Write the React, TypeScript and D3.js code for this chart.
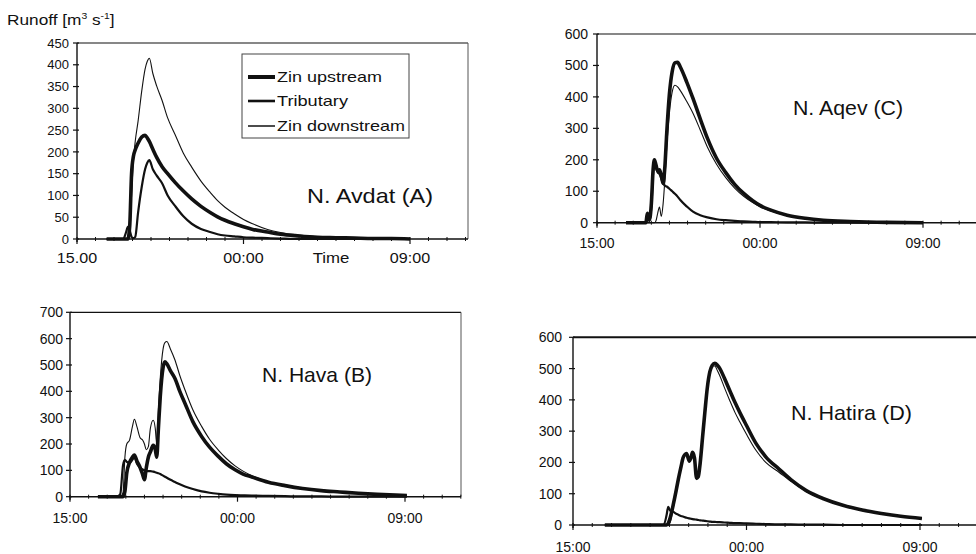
import React from 'react';
import * as d3 from 'd3';

// ---------- DATA (hours after 15:00) ----------
const hoursA = [1.6, 2.5, 2.65, 2.75, 2.85, 2.95, 3.05, 3.15, 3.3, 3.5, 3.68, 3.8, 3.91, 4.1, 4.3, 4.6, 4.9, 5.3, 5.75, 6.2, 6.7, 7.2, 7.6, 8.0, 8.5, 9.0, 9.5, 10.3, 11, 12, 13, 14, 15, 16, 17, 18];
const upstreamA = [0, 0, 0, 0, 30, 150, 190, 205, 220, 234, 238, 232, 224, 206, 188, 166, 150, 130, 110, 92, 75, 61, 51, 43, 35, 28, 22, 16, 11, 7, 4, 3, 2, 1, 1, 0];
const tributaryA = [0, 0, 15, 28, 20, 5, 2, 5, 60, 120, 160, 175, 181, 160, 146, 128, 100, 76, 52, 35, 23, 16, 11, 8, 6, 4, 3, 2, 1, 0, 0, 0, 0, 0, 0, 0];
const downstreamA = [0, 0, 0, 0, 10, 100, 180, 225, 270, 340, 390, 408, 415, 380, 352, 318, 278, 240, 197, 165, 133, 107, 88, 73, 58, 45, 35, 22, 15, 9, 5, 3, 2, 1, 1, 0];

const hoursB = [1.5, 2.5, 2.7, 2.85, 2.95, 3.05, 3.2, 3.35, 3.46, 3.6, 3.76, 3.9, 4.0, 4.1, 4.21, 4.32, 4.47, 4.58, 4.66, 4.75, 4.85, 5.0, 5.1, 5.2, 5.4, 5.64, 5.9, 6.18, 6.6, 7.08, 7.5, 7.97, 8.4, 8.87, 9.3, 9.77, 10.66, 11.56, 12.5, 13.5, 14.5, 15.5, 16.5, 17.5, 18.1];
const upstreamB = [0, 0, 0, 0, 20, 90, 130, 150, 158, 135, 112, 85, 65, 110, 150, 170, 195, 180, 150, 260, 380, 490, 512, 505, 478, 449, 400, 354, 285, 228, 188, 153, 125, 102, 86, 75, 55, 42, 31, 23, 18, 13, 9, 6, 4];
const tributaryB = [0, 0, 10, 120, 140, 132, 128, 140, 150, 125, 110, 103, 100, 98, 97, 97, 95, 93, 91, 89, 86, 80, 76, 72, 64, 56, 47, 39, 29, 20, 15, 11, 8, 6, 5, 4, 3, 2, 1, 1, 0, 0, 0, 0, 0];
const downstreamB = [0, 0, 0, 15, 150, 200, 215, 265, 294, 265, 225, 215, 200, 178, 190, 260, 290, 260, 200, 330, 450, 560, 585, 589, 560, 519, 460, 405, 330, 266, 218, 177, 145, 117, 97, 80, 57, 44, 33, 25, 19, 14, 10, 7, 5];

const hoursC = [1.6, 2.6, 2.7, 2.78, 2.9, 3.0, 3.1, 3.17, 3.25, 3.35, 3.45, 3.55, 3.65, 3.75, 3.85, 4.0, 4.15, 4.3, 4.45, 4.6, 4.95, 5.3, 5.7, 6.1, 6.6, 7.1, 7.6, 8.1, 8.6, 9.0, 9.6, 10.5, 11.5, 12.5, 14, 16, 18];
const upstreamC = [0, 0, 0, 30, 10, 60, 170, 200, 185, 165, 168, 150, 125, 180, 284, 410, 480, 508, 510, 495, 448, 395, 330, 268, 205, 160, 122, 93, 70, 55, 40, 24, 14, 8, 4, 1, 0];
const tributaryC = [0, 0, 0, 10, 5, 50, 160, 190, 175, 160, 155, 140, 125, 118, 115, 108, 100, 92, 83, 72, 52, 35, 24, 17, 11, 8, 6, 4, 3, 2, 2, 1, 1, 0, 0, 0, 0];
const downstreamC = [0, 0, 0, 0, 0, 0, 0, 0, 5, 30, 50, 20, 60, 140, 240, 350, 415, 437, 432, 420, 386, 348, 295, 240, 186, 144, 110, 84, 64, 51, 37, 22, 13, 8, 4, 1, 0];

const hoursD = [1.65, 4.7, 4.85, 4.94, 5.05, 5.2, 5.35, 5.46, 5.6, 5.71, 5.8, 5.89, 6.03, 6.12, 6.2, 6.3, 6.41, 6.5, 6.6, 6.72, 6.84, 6.97, 7.1, 7.22, 7.36, 7.5, 7.62, 7.85, 8.13, 8.4, 8.65, 9.0, 9.5, 10.0, 10.7, 11.3, 12.1, 13, 14, 15, 16, 17, 18.1];
const upstreamD = [0, 0, 0, 5, 25, 65, 110, 145, 185, 215, 225, 228, 205, 215, 232, 215, 150, 155, 200, 280, 360, 440, 490, 510, 517, 510, 500, 470, 430, 392, 360, 318, 260, 218, 178, 145, 110, 84, 63, 48, 37, 28, 21];
const tributaryD = [0, 0, 30, 58, 45, 42, 36, 33, 29, 27, 25, 23, 21, 20, 19, 18, 17, 16, 15, 14, 13, 12, 11, 10, 10, 9, 9, 8, 7, 6, 6, 5, 4, 3, 2, 2, 1, 1, 0, 0, 0, 0, 0];
const downstreamD = [0, 0, 0, 0, 10, 55, 105, 140, 180, 210, 222, 225, 200, 210, 228, 205, 145, 160, 210, 290, 370, 450, 495, 510, 508, 492, 476, 440, 398, 360, 330, 290, 238, 200, 168, 140, 107, 82, 62, 47, 37, 28, 21];

const yTicksA = [0, 50, 100, 150, 200, 250, 300, 350, 400, 450];
const yTicksB = [0, 100, 200, 300, 400, 500, 600, 700];
const yTicksC = [0, 100, 200, 300, 400, 500, 600];
const yTicksD = [0, 100, 200, 300, 400, 500, 600];
const xTickHours = [0, 9, 18];
const xTickLabelsA = ['15.00', '00:00', '09:00'];
const xTickLabels = ['15:00', '00:00', '09:00'];
const seriesNames = ['Zin upstream', 'Tributary', 'Zin downstream'];

const FONT = '"Liberation Sans", Arial, Helvetica, sans-serif';
const INK = '#111';
const widths = [3.6, 2.2, 1.1];

function Panel(p: any) {
  const x = d3.scaleLinear().domain([0, 18]).range([p.x0, p.x18]);
  const y = d3.scaleLinear().domain([0, p.yMax]).range([p.yBottom, p.yTop]);
  const series = [p.up, p.trib, p.down];
  const lineFor = (vals: number[]) =>
    d3
      .line<number>()
      .x((_, i) => x(p.hours[i]))
      .y((d) => y(d))
      .curve(d3.curveMonotoneX)(vals) as string;
  const maxHour = Math.floor(x.invert(Math.min(p.xRight, 975)));
  const minor = d3.range(1, maxHour + 1).filter((h) => h !== 9 && h !== 18);
  return (
    <g>
      <line x1={p.x0} x2={p.xRight} y1={p.yTop} y2={p.yTop} stroke={INK} strokeWidth={p.topW || 1.2} />
      {p.xRight < 976 && (
        <line x1={p.xRight} x2={p.xRight} y1={p.yTop} y2={p.yBottom} stroke="#555" strokeWidth={1} />
      )}
      <line x1={p.x0} x2={p.x0} y1={p.yTop} y2={p.yBottom + 3} stroke={INK} strokeWidth={1.4} />
      {p.yTicks.map((t: number) => (
        <g key={t}>
          <line x1={p.x0 - 4} x2={p.x0 + 2} y1={y(t)} y2={y(t)} stroke={INK} strokeWidth={1.2} />
          <text
            x={p.x0 - p.yLabGap}
            y={y(t)}
            dy="0.36em"
            textAnchor="end"
            fontSize={p.yFont}
            fontFamily={FONT}
            fill={INK}
          >
            {t}
          </text>
        </g>
      ))}
      <line x1={p.x0} x2={p.xRight} y1={p.yBottom} y2={p.yBottom} stroke={INK} strokeWidth={1.4} />
      {minor.map((h) => (
        <line key={h} x1={x(h)} x2={x(h)} y1={p.yBottom - 2} y2={p.yBottom + 2} stroke={INK} strokeWidth={1} />
      ))}
      {xTickHours.map((h, i) => (
        <g key={h}>
          <line x1={x(h)} x2={x(h)} y1={p.yBottom - 2} y2={p.yBottom + 5} stroke={INK} strokeWidth={1.2} />
          <text
            transform={`translate(${x(h)},${p.xLabY}) scale(${p.xLabScale},1)`}
            textAnchor="middle"
            fontSize={14}
            fontFamily={FONT}
            fill={INK}
          >
            {p.xLabels[i]}
          </text>
        </g>
      ))}
      {series.map((vals: number[], i: number) => (
        <path key={i} d={lineFor(vals)} fill="none" stroke={INK} strokeWidth={widths[i]} strokeLinejoin="round" />
      ))}
      <text
        x={p.labX}
        y={p.labY}
        fontSize={21}
        fontFamily={FONT}
        fill={INK}
        textLength={p.labW}
        lengthAdjust="spacingAndGlyphs"
      >
        {p.label}
      </text>
    </g>
  );
}

export default function App() {
  const legendRows = [77, 101, 126];
  const legendWidths = [105, 71, 128];
  return (
    <svg
      width={976}
      height={554}
      style={{ position: 'absolute', left: 0, top: 0, background: '#fff' }}
    >
      <rect width={976} height={554} fill="#fff" />
      <text transform="translate(7,25) scale(1.15,1)" fontSize={15} fontFamily={FONT} fill={INK}>
        Runoff [m
        <tspan fontSize={9} dy={-6}>3</tspan>
        <tspan dy={6}> s</tspan>
        <tspan fontSize={9} dy={-6}>-1</tspan>
        <tspan dy={6}>]</tspan>
      </text>
      <Panel
        hours={hoursA} up={upstreamA} trib={tributaryA} down={downstreamA}
        x0={77} x18={410} xRight={468} yBottom={239} yTop={43} yMax={450}
        yTicks={yTicksA} yFont={13} yLabGap={8}
        xLabels={xTickLabelsA} xLabY={263} xLabScale={1.15}
        label="N. Avdat (A)" labX={307} labY={203} labW={126}
      />
      <text transform="translate(331,263) scale(1.2,1)" textAnchor="middle" fontSize={14} fontFamily={FONT} fill={INK}>
        Time
      </text>
      <rect x={242} y={54} width={167} height={84} fill="#fff" stroke="#444" strokeWidth={1} />
      {seriesNames.map((n, i) => (
        <g key={n}>
          <line x1={248} x2={275} y1={legendRows[i]} y2={legendRows[i]} stroke={INK} strokeWidth={widths[i] + 0.4} />
          <text
            x={277}
            y={legendRows[i]}
            dy="0.36em"
            fontSize={15}
            fontFamily={FONT}
            fill={INK}
            textLength={legendWidths[i]}
            lengthAdjust="spacingAndGlyphs"
          >
            {n}
          </text>
        </g>
      ))}
      <Panel
        hours={hoursC} up={upstreamC} trib={tributaryC} down={downstreamC}
        x0={597} x18={923} xRight={980} yBottom={222.7} yTop={34} yMax={600}
        yTicks={yTicksC} yFont={14} yLabGap={9}
        xLabels={xTickLabels} xLabY={248} xLabScale={1}
        label="N. Aqev (C)" labX={793} labY={115} labW={110}
      />
      <Panel
        hours={hoursB} up={upstreamB} trib={tributaryB} down={downstreamB}
        x0={70} x18={405} xRight={461} yBottom={496.7} yTop={312.3} yMax={700}
        yTicks={yTicksB} yFont={14} yLabGap={7}
        xLabels={xTickLabels} xLabY={523} xLabScale={1}
        label="N. Hava (B)" labX={262} labY={382} labW={110}
      />
      <Panel
        hours={hoursD} up={upstreamD} trib={tributaryD} down={downstreamD}
        x0={573} x18={920} xRight={980} yBottom={525} yTop={337.3} yMax={600} topW={2}
        yTicks={yTicksD} yFont={14} yLabGap={11}
        xLabels={xTickLabels} xLabY={552} xLabScale={1}
        label="N. Hatira (D)" labX={791} labY={420} labW={121}
      />
    </svg>
  );
}
